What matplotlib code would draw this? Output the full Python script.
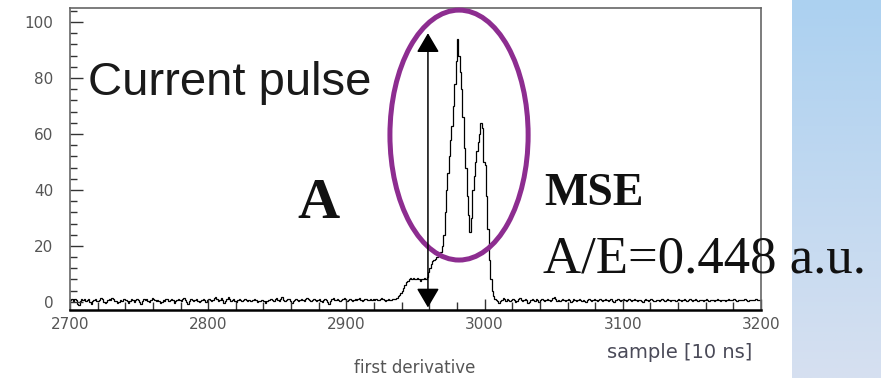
import numpy as np
import matplotlib
matplotlib.use("Agg")
import matplotlib.pyplot as plt
from matplotlib.patches import Ellipse, FancyArrowPatch
from matplotlib.ticker import MultipleLocator

# first-derivative trace, one value per 10 ns sample
START = 2700
baseline_pre = [  # 2700 .. 2935
    0.6, 0.9, 0.3, 1.1, 0.5, -0.7, -1.0, 0.2, 1.2, 0.8, 1.0, 0.3, 0.7, 1.1, 0.0, -0.6, 0.3, 0.8, 1.2, 0.4,
    0.2, 0.6, 1.3, 0.9, 0.1, -0.5, 0.0, 0.7, 1.0, 0.6, 1.4, 0.9, 0.4, 0.2, -0.4, 0.1, 0.6, 0.3, 0.9, 1.1,
    0.8, 0.2, -0.3, 0.4, 1.0, 0.7, 0.1, 0.5, 1.2, 0.6, -0.2, -0.8, 0.3, 0.9, 0.5, 1.0, 0.4, 0.0, 0.6, 1.3,
    1.0, 0.5, 0.2, 0.8, 0.3, -0.5, 0.1, 0.7, 0.4, 1.1, 0.9, 0.2, 0.6, 1.0, 0.5, -0.3, 0.2, 0.8, 1.2, 0.7,
    0.3, 0.9, 1.4, 0.6, 0.0, -0.6, 0.4, 0.9, 0.5, 0.2, 0.8, 1.1, 0.4, -0.2, 0.3, 0.7, 1.0, 0.6, 0.1, 0.5,
    1.2, 0.8, 0.3, 0.6, 1.5, 1.9, 1.0, 0.4, 0.7, 1.3, 0.5, -0.4, 0.2, 0.9, 1.6, 1.1, 0.3, 0.6, 1.0, 0.4,
    0.1, 0.7, 1.2, 0.8, 0.2, 0.5, 0.9, 0.6, 0.3, 0.8, 0.4, 0.2, 0.6, 1.0, 0.5, 0.1, 0.4, 0.3, 0.7, 0.5,
    0.2, -0.4, 0.3, 0.8, 0.6, 1.1, 0.5, 0.2, 0.9, 1.3, 0.7, 0.4, 1.0, 1.6, 0.8, 0.3, 0.6, 1.2, 0.9, 0.4,
    -0.3, 0.2, 0.8, 1.0, 0.5, 0.3, 0.7, 1.1, 0.6, 0.2, 0.9, 1.4, 1.0, 0.5, 0.3, 0.8, 1.2, 0.7, 0.2, 0.6,
    1.0, 0.4, 0.1, 0.6, 1.2, 0.8, -0.2, -0.7, 0.3, 0.9, 1.3, 0.8, 0.5, 1.0, 0.6, 0.2, 0.7, 1.1, 1.5, 0.9,
    0.4, 0.8, 1.2, 0.7, 0.3, 0.6, 1.0, 0.5, 0.9, 1.3, 0.8, 0.4, 0.7, 1.2, 0.9, 0.5, 0.8, 1.1, 0.6, 1.0,
    0.7, 1.2, 0.8, 0.5, 0.9, 1.3, 1.0, 0.6, 0.4, 0.8, 1.1, 0.7, 0.5, 0.9, 1.2, 1.0,
]
pulse = [  # 2936 .. 3006
    1.5, 2.0, 2.5, 3.0, 4.0, 5.0, 6.0, 7.0, 7.5, 8.0,
    8.5, 8.0, 8.5, 8.0, 8.0, 8.5, 8.0, 7.5, 8.0, 8.0,
    8.5, 8.0, 9.0, 10.5, 12.0, 13.5, 14.5, 15.0, 15.5, 16.0,
    16.5, 17.0, 18.0, 20.0, 24.0, 32.0, 40.0, 46.0, 52.0, 58.0,
    63.0, 70.0, 78.0, 86.0, 94.0, 88.0, 82.0, 76.0, 66.0, 55.0,
    48.0, 38.0, 31.0, 25.0, 30.0, 40.0, 45.0, 50.0, 54.0, 57.0,
    60.0, 64.0, 62.0, 50.0, 49.0, 38.0, 26.0, 15.0, 8.0, 4.0, 2.0,
]
baseline_post = [  # 3007 .. 3199
    1.2, 0.6, 0.3, -0.5, 0.2, 0.8, 1.3, 0.9, 0.4, 1.0, 0.6, 0.2, 0.7, 1.1, 0.5, 0.0, 0.4, 0.9, 1.4, 0.8,
    0.3, 0.6, 1.0, 0.5, -0.3, 0.1, 0.7, 1.2, 0.8, 0.4, 0.9, 0.5, 0.1, 0.6, 1.1, 0.7, 0.2, 0.5, 1.0, 0.6,
    0.3, 0.8, 1.3, 1.7, 0.9, 0.4, 0.7, 0.2, 0.6, 1.0, 0.5, 0.3, 0.8, 1.2, 0.6, 0.1, 0.4, 0.9, 0.5, 0.2,
    0.7, 1.1, 0.6, 0.3, 0.8, 0.4, 0.0, 0.5, 0.9, 0.6, 0.2, 0.7, 1.0, 0.5, 0.3, 0.8, 1.2, 0.7, 0.4, 0.6,
    1.0, 0.5, 0.2, 0.6, 0.9, 0.4, 0.1, 0.5, 0.8, 1.1, 0.7, 0.3, 0.6, 0.9, 0.5, 0.2, 0.7, 1.0, 0.6, 0.3,
    0.5, 0.9, 0.6, 0.2, 0.5, 0.8, 0.4, 0.1, 0.6, 1.0, 0.7, 0.3, 0.5, 0.9, 0.6, 0.2, 0.4, 0.8, 0.5, 0.3,
    0.7, 1.0, 0.6, 0.3, 0.6, 0.9, 0.5, 0.2, 0.5, 0.8, 0.6, 0.3, 0.7, 1.0, 0.7, 0.4, 0.6, 0.9, 0.5, 0.3,
    0.6, 0.9, 0.6, 0.4, 0.7, 1.0, 0.6, 0.3, 0.5, 0.8, 0.6, 0.4, 0.7, 0.9, 0.6, 0.3, 0.5, 0.8, 0.6, 0.4,
    0.6, 0.9, 0.7, 0.4, 0.6, 0.8, 0.5, 0.3, 0.6, 0.9, 0.7, 0.5, 0.7, 0.9, 0.6, 0.4, 0.6, 0.8, 0.6, 0.5,
    0.7, 0.9, 0.6, 0.4, 0.6, 0.8, 0.6, 0.5, 0.7, 0.9, 0.7, 0.5, 0.8,
]

x_ticks = [2700, 2800, 2900, 3000, 3100, 3200]
y_ticks = [0, 20, 40, 60, 80, 100]

# amplitude A marked by the arrow, and the MSE region ringed
amp_x = 2959
amp_lo, amp_hi = -2, 96
ring_center = (2981.5, 59.6)
ring_size = (100, 89.3)
ae_value = 0.448

trace = np.array(baseline_pre + pulse + baseline_post)
edges = np.arange(START, START + len(trace) + 1)

fig = plt.figure(figsize=(8.81, 3.78), dpi=100)

# light blue side band
band = fig.add_axes([792 / 881, 0, 89 / 881, 1])
band.set_zorder(0)
grad = np.linspace(0, 1, 256)[:, None]
band.imshow(grad, aspect="auto", extent=[0, 1, 0, 1], origin="upper",
            cmap=matplotlib.colors.LinearSegmentedColormap.from_list(
                "band", ["#acd1f0", "#d6e0f0"]))
band.axis("off")

ax = fig.add_axes([70 / 881, 68 / 378, 691 / 881, 302 / 378])
ax.set_zorder(2)
ax.stairs(trace, edges, color="black", lw=0.9)

ax.set_xlim(2700, 3200)
ax.set_ylim(-2.9, 105)
ax.set_xticks(x_ticks)
ax.set_yticks(y_ticks)
ax.xaxis.set_minor_locator(MultipleLocator(20))
ax.yaxis.set_minor_locator(MultipleLocator(4))
ax.tick_params(axis="both", which="both", direction="in", colors="#333333",
               labelcolor="#555555", labelsize=11, width=1.0)
ax.tick_params(axis="y", which="major", length=9, pad=12)
ax.tick_params(axis="y", which="minor", length=5)
ax.tick_params(axis="x", which="major", length=8, pad=5)
ax.tick_params(axis="x", which="minor", length=6)
for lab in ax.get_xticklabels() + ax.get_yticklabels():
    lab.set_family("DejaVu Sans")
for side in ("top", "right", "left"):
    ax.spines[side].set_color("#666666")
    ax.spines[side].set_linewidth(1.2)
ax.spines["bottom"].set_color("black")
ax.spines["bottom"].set_linewidth(1.8)

ax.add_patch(Ellipse(ring_center, ring_size[0], ring_size[1], fill=False,
                     ec="#8d2d90", lw=3.6, clip_on=False, zorder=4))
ax.add_patch(FancyArrowPatch((amp_x, amp_lo), (amp_x, amp_hi),
                             arrowstyle="<|-|>,head_length=0.85,head_width=0.5",
                             mutation_scale=14, color="black", lw=1.1,
                             shrinkA=0, shrinkB=0, zorder=5))

ax.text(2713, 74, "Current pulse", family="Liberation Sans", fontsize=34,
        color="#1a1a1a", va="baseline", ha="left")
ax.text(2864.5, 30, "A", family="Liberation Serif", fontweight="bold",
        fontsize=42, color="#111111", va="baseline", ha="left")
ax.text(3043.5, 34.6, "MSE", family="Liberation Serif", fontweight="bold",
        fontsize=33, color="#111111", va="baseline", ha="left")
ax.text(3042, 10.4, f"A/E={ae_value:.3f} a.u.", family="Liberation Serif",
        fontsize=38, color="#111111", va="baseline", ha="left", clip_on=False)

fig.text(752 / 881, 26 / 378, "sample [10 ns]", family="DejaVu Sans",
         fontsize=14, color="#4a4a58", ha="right", va="center")
fig.text(415 / 881, 10 / 378, "first derivative", family="DejaVu Sans",
         fontsize=12, color="#555555", ha="center", va="center")

fig.savefig("out.png", dpi=100)
